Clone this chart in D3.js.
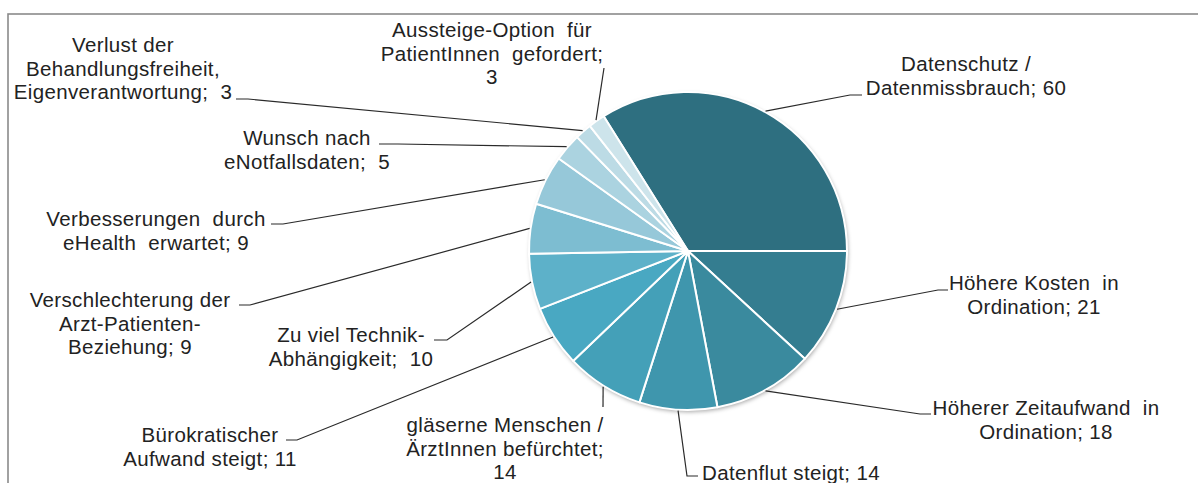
<!DOCTYPE html>
<html>
<head>
<meta charset="utf-8">
<script src="https://cdn.jsdelivr.net/npm/d3@7/dist/d3.min.js"></script>
<style>
  html, body { margin: 0; padding: 0; background: #fff; }
  svg { display: block; }
  text { font-family: "Liberation Sans", Arial, sans-serif; fill: #222; }
</style>
</head>
<body>
<svg id="chart" width="1198" height="483"></svg>
<script>
// ---- data ----
const categories = [
  "Datenschutz /\nDatenmissbrauch",
  "Höhere Kosten  in\nOrdination",
  "Höherer Zeitaufwand  in\nOrdination",
  "Datenflut steigt",
  "gläserne Menschen /\nÄrztInnen befürchtet",
  "Bürokratischer\nAufwand steigt",
  "Zu viel Technik-\nAbhängigkeit",
  "Verschlechterung der\nArzt-Patienten-\nBeziehung",
  "Verbesserungen  durch\neHealth  erwartet",
  "Wunsch nach\neNotfallsdaten",
  "Verlust der\nBehandlungsfreiheit,\nEigenverantwortung",
  "Aussteige-Option  für\nPatientInnen  gefordert"
];
const values = [60, 21, 18, 14, 14, 11, 10, 9, 9, 5, 3, 3];

// ---- styles / layout ----
const colors = ["#2e6f80", "#347d90", "#3a8a9e", "#3f96ad", "#44a0b8", "#49a8c2",
                "#5db1c9", "#7dbdd1", "#96c8d9", "#abd3e0", "#bcdbe5", "#cde4eb"];
const valueOnNewLine = [false, false, false, false, true, false, false, false, false, false, false, true];
const valueSep = [" ", " ", " ", " ", "", " ", "  ", " ", " ", "  ", "  ", ""];
// label layout: center x, first baseline y, elbow point, stub end point
const labelLayout = [
  { x: 966,  y: 71,  elbow: [850, 95],  end: [862, 95] },
  { x: 1034, y: 290, elbow: [938, 290], end: [948, 290] },
  { x: 1046, y: 415, elbow: [920, 414], end: [931, 414] },
  { x: 791,  y: 480, elbow: [687, 476], end: [698, 476] },
  { x: 505,  y: 432, elbow: [603, 407], end: [603, 407] },
  { x: 210,  y: 442, elbow: [297, 440], end: [286, 440] },
  { x: 351,  y: 342, elbow: [447, 340], end: [434, 340] },
  { x: 130,  y: 307, elbow: [250, 305], end: [239, 305] },
  { x: 156,  y: 226, elbow: [283, 224], end: [271, 224] },
  { x: 307,  y: 145, elbow: [398, 144], end: [379, 144] },
  { x: 123,  y: 52,  elbow: [248, 99],  end: [236, 99] },
  { x: 492,  y: 37,  elbow: [604, 68],  end: [604, 68] }
];
const cx = 688, cy = 251, radius = 159;
const fontSize = 20.5, lineHeight = 23.5, letterSpacing = 0.35;

const svg = d3.select("#chart");

// frame
svg.append("rect")
  .attr("x", 8).attr("y", 14)
  .attr("width", 1300).attr("height", 600)
  .attr("fill", "none").attr("stroke", "#8a8a8a").attr("stroke-width", 1.6);

const defs = svg.append("defs");
const f = defs.append("filter").attr("id", "shadow")
  .attr("x", "-20%").attr("y", "-20%").attr("width", "140%").attr("height", "140%");
f.append("feDropShadow").attr("dx", 1).attr("dy", 2).attr("stdDeviation", 2.2)
  .attr("flood-color", "#000").attr("flood-opacity", 0.35);

const total = d3.sum(values);
const startAngle = Math.PI / 2 - 2 * Math.PI * values[0] / total;

const pie = d3.pie().sort(null)
  .startAngle(startAngle).endAngle(startAngle + 2 * Math.PI);
const arcs = pie(values);
const arc = d3.arc().innerRadius(0).outerRadius(radius);

const g = svg.append("g").attr("transform", `translate(${cx},${cy})`);

g.append("circle").attr("r", radius).attr("fill", "#fff").attr("filter", "url(#shadow)");

g.selectAll("path.slice")
  .data(arcs)
  .join("path")
  .attr("class", "slice")
  .attr("d", arc)
  .attr("fill", (d, i) => colors[i])
  .attr("stroke", "#fff")
  .attr("stroke-width", 2)
  .attr("stroke-linejoin", "round");

// leader lines
const leaderG = svg.append("g");
arcs.forEach((d, i) => {
  const mid = (d.startAngle + d.endAngle) / 2;
  const sx = cx + Math.sin(mid) * (radius + 1);
  const sy = cy - Math.cos(mid) * (radius + 1);
  const L = labelLayout[i];
  leaderG.append("polyline")
    .attr("points", [[sx, sy], L.elbow, L.end].map(p => p.join(",")).join(" "))
    .attr("fill", "none").attr("stroke", "#2a2a2a").attr("stroke-width", 1.2);
});

// labels
const labelG = svg.append("g");
arcs.forEach((d, i) => {
  const text = categories[i] + ";" + (valueOnNewLine[i] ? "\n" : valueSep[i]) + values[i];
  const lines = text.split("\n");
  const L = labelLayout[i];
  const t = labelG.append("text")
    .attr("text-anchor", "middle")
    .attr("font-size", fontSize)
    .attr("letter-spacing", letterSpacing)
    .attr("xml:space", "preserve")
    .style("white-space", "pre");
  lines.forEach((ln, k) => {
    t.append("tspan").attr("x", L.x).attr("y", L.y + k * lineHeight).text(ln);
  });
});
</script>
</body>
</html>
